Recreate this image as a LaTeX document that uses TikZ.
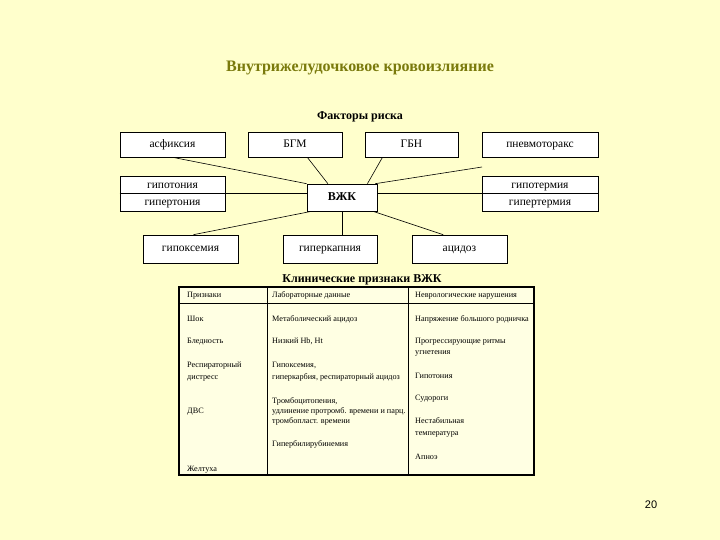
\documentclass[tikz,border=0pt]{standalone}
\usepackage{fontspec}
\setmainfont{Liberation Serif}
\newfontfamily\numfont{Liberation Sans}
\usetikzlibrary{calc}
\definecolor{bgc}{HTML}{FFFFCC}
\definecolor{cellc}{HTML}{FFFFE3}
\definecolor{titlec}{HTML}{7A7A0C}
\begin{document}
\begin{tikzpicture}[x=1pt,y=-1pt,
 box/.style={draw, fill=white, line width=0.6pt, inner sep=0pt, text height=8pt, text depth=2.5pt, font=\fontsize{11.5}{13}\selectfont},
 boxtext/.style={inner sep=0pt, text height=8pt, text depth=2.5pt, font=\fontsize{11.5}{13}\selectfont},
 conn/.style={line width=0.6pt},
 cell/.style={anchor=west, inner sep=0pt, text height=5.8pt, text depth=1.8pt, font=\fontsize{8.2}{9}\selectfont},
 heading/.style={inner sep=0pt, font=\bfseries\fontsize{12}{14}\selectfont},
]
\path[fill=bgc, use as bounding box] (0,0) rectangle (720,540);

% title
\node[inner sep=0pt, text=titlec, font=\bfseries\fontsize{16}{18}\selectfont] (title) at (360,68) {Внутрижелудочковое кровоизлияние};
\node[heading] (risk) at (360,117) {Факторы риска};

% risk factor boxes
\node[box, minimum width=105, minimum height=25] (asf) at (172.5,144.5) {асфиксия};
\node[box, minimum width=94, minimum height=25] (bgm) at (295,144.5) {БГМ};
\node[box, minimum width=93, minimum height=25] (gbn) at (411.5,144.5) {ГБН};
\node[box, minimum width=116, minimum height=25] (pnm) at (540,144.5) {пневмоторакс};

\node[box, minimum width=105, minimum height=35] (hyp) at (172.5,193.5) {};
\draw[conn] (hyp.west) -- (hyp.east);
\node[boxtext] (hypo) at (172.5,186) {гипотония};
\node[boxtext] (hyper) at (172.5,203) {гипертония};

\node[box, minimum width=116, minimum height=35] (term) at (540,193.5) {};
\draw[conn] (term.west) -- (term.east);
\node[boxtext] (termo) at (540,186) {гипотермия};
\node[boxtext] (termr) at (540,203) {гипертермия};

\node[box, minimum width=70, minimum height=27, font=\bfseries\fontsize{12}{13}\selectfont] (vzhk) at (342,197.5) {ВЖК};

\node[box, minimum width=95, minimum height=28] (hox) at (190.5,249) {гипоксемия};
\node[box, minimum width=94, minimum height=28] (hcap) at (330,249) {гиперкапния};
\node[box, minimum width=95, minimum height=28] (acid) at (459.5,249) {ацидоз};

% connectors
\coordinate (pend) at (482,167);
\draw[conn] (asf.south) -- (vzhk.north west);
\draw[conn] ($(bgm.south west)!0.63!(bgm.south east)$) -- ($(vzhk.north west)!0.3!(vzhk.north east)$);
\draw[conn] ($(gbn.south west)!0.19!(gbn.south east)$) -- ($(vzhk.north west)!0.86!(vzhk.north east)$);
\draw[conn] (pend) -- ($(vzhk.north west)!0.97!(vzhk.north east)$);
\draw[conn] (hyp.east) -- (hyp.east -| vzhk.west);
\draw[conn] (vzhk.east |- term.west) -- (term.west);
\draw[conn] ($(hox.north west)!0.53!(hox.north east)$) -- ($(vzhk.south west)!0.07!(vzhk.south east)$);
\draw[conn] (vzhk.south) -- (vzhk.south |- hcap.north);
\draw[conn] ($(acid.north west)!0.33!(acid.north east)$) -- ($(vzhk.south west)!0.94!(vzhk.south east)$);

% table
\node[heading] (clin) at (362,280) {Клинические признаки ВЖК};
\fill[cellc] (179,287) rectangle (534,475);
\draw[line width=0.5pt] (179,303) -- (534,303);
\draw[line width=0.5pt] (267,287) -- (267,475);
\draw[line width=0.5pt] (408,287) -- (408,475);
\draw[line width=1.6pt] (179,287) rectangle (534,475);

% column 1
\node[cell] (c1a) at (187,295) {Признаки};
\node[cell] (c1b) at (187,319) {Шок};
\node[cell] (c1c) at (187,341) {Бледность};
\node[cell] (c1d) at (187,365) {Респираторный};
\node[cell] (c1e) at (187,377) {дистресс};
\node[cell] (c1f) at (187,411) {ДВС};
\node[cell] (c1g) at (187,469) {Желтуха};
% column 2
\node[cell] (c2a) at (272,295) {Лабораторные данные};
\node[cell] (c2b) at (272,319) {Метаболический ацидоз};
\node[cell] (c2c) at (272,341) {Низкий Hb, Ht};
\node[cell] (c2d) at (272,365) {Гипоксемия,};
\node[cell] (c2e) at (272,377) {гиперкарбия, респираторный ацидоз};
\node[cell] (c2f) at (272,401) {Тромбоцитопения,};
\node[cell] (c2g) at (272,411) {удлинение протромб. времени и парц.};
\node[cell] (c2h) at (272,421) {тромбопласт. времени};
\node[cell] (c2i) at (272,444) {Гипербилирубинемия};
% column 3
\node[cell] (c3a) at (415,295) {Неврологические нарушения};
\node[cell] (c3b) at (415,319) {Напряжение большого родничка};
\node[cell] (c3c) at (415,341) {Прогрессирующие ритмы};
\node[cell] (c3d) at (415,352) {угнетения};
\node[cell] (c3e) at (415,376) {Гипотония};
\node[cell] (c3f) at (415,398) {Судороги};
\node[cell] (c3g) at (415,421) {Нестабильная};
\node[cell] (c3h) at (415,433) {температура};
\node[cell] (c3i) at (415,457) {Апноэ};

% page number
\node[inner sep=0pt, font=\numfont\fontsize{11}{12}\selectfont] (pg) at (651,505) {20};
\end{tikzpicture}
\end{document}
